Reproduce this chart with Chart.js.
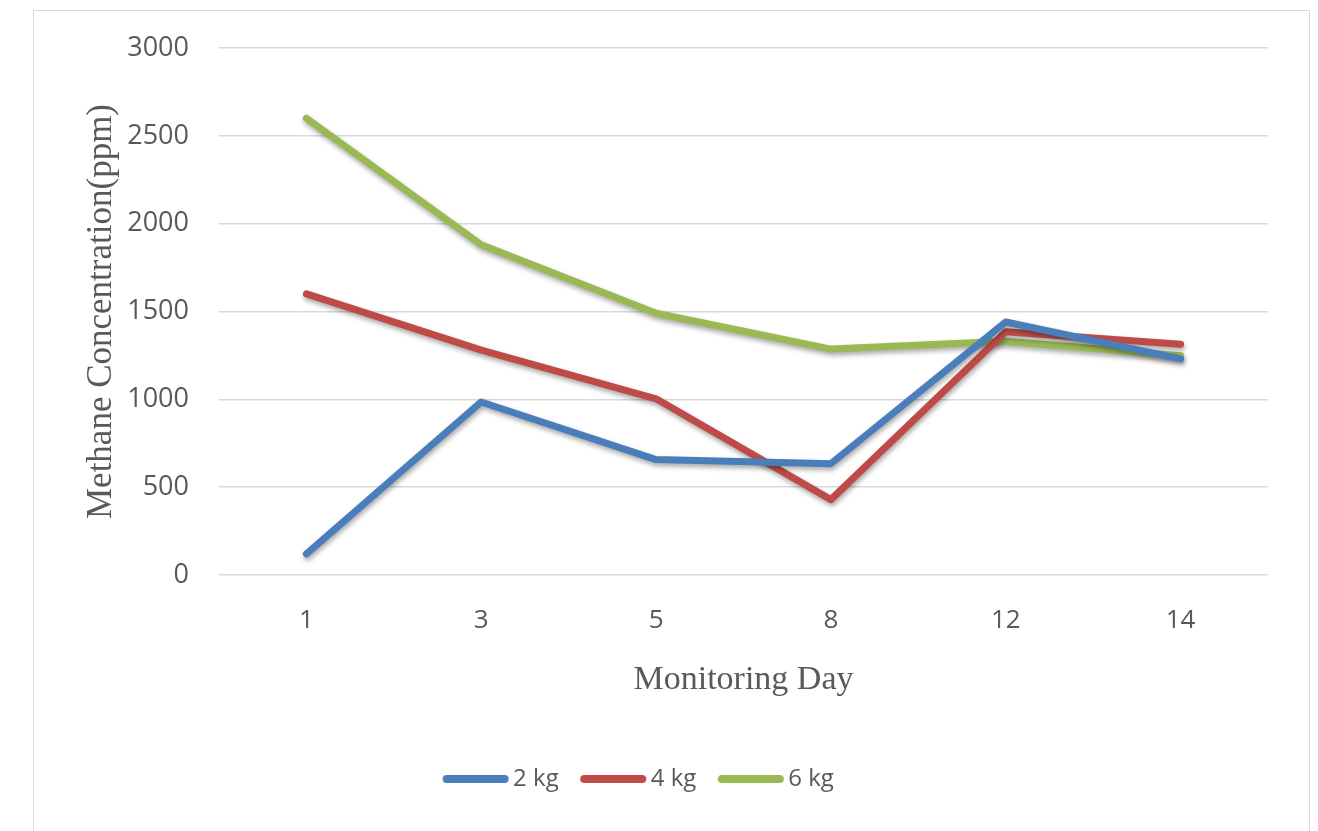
<!DOCTYPE html>
<html>
<head>
<meta charset="utf-8">
<script src="https://cdn.jsdelivr.net/npm/chart.js@4.4.0/dist/chart.umd.min.js"></script>
<style>
  html, body { margin: 0; padding: 0; background: #fff; }
  body { width: 1318px; height: 831px; position: relative; overflow: hidden; }
  #frame { position: absolute; left: 33px; top: 10px; width: 1275px; height: 830px; border: 1px solid #d9d9d9; }
  #wrap { position: absolute; left: 8px; top: 11px; width: 1300px; height: 820px; }
</style>
</head>
<body>
<div id="frame"></div>
<div id="wrap"><canvas id="chart"></canvas></div>
<script>
var days = ["1", "3", "5", "8", "12", "14"];
var kg2 = [120, 985, 657, 634, 1440, 1230];
var kg4 = [1600, 1280, 1003, 429, 1385, 1314];
var kg6 = [2600, 1880, 1490, 1286, 1331, 1248];
var yTicks = [0, 500, 1000, 1500, 2000, 2500, 3000];

var ctx = document.getElementById("chart");
var tickFont = "'Open Sans', sans-serif";
var titleFont = "'Liberation Serif', 'DejaVu Serif', serif";

// soft drop shadow under the lines, like the office chart
var shadowPlugin = {
    id: 'lineShadow',
    beforeDatasetsDraw: function(chart) {
        var c = chart.ctx;
        c.save();
        c.shadowColor = "rgba(0,0,0,0.35)";
        c.shadowBlur = 5;
        c.shadowOffsetX = 1;
        c.shadowOffsetY = 3;
    },
    afterDatasetsDraw: function(chart) {
        chart.ctx.restore();
    }
};

// little rounded line used as the legend marker
function legendLine(colour) {
    var cv = document.createElement("canvas");
    cv.width = 68;
    cv.height = 12;
    var c = cv.getContext("2d");
    c.strokeStyle = colour;
    c.lineWidth = 8;
    c.lineCap = "round";
    c.beginPath();
    c.moveTo(5, 6);
    c.lineTo(63, 6);
    c.stroke();
    return cv;
}

function series(label, values, colour) {
    return {
        label: label,
        data: values,
        borderColor: colour,
        backgroundColor: colour,
        borderWidth: 7,
        borderCapStyle: 'round',
        borderJoinStyle: 'round',
        pointRadius: 0,
        tension: 0,
        fill: false,
        marker: legendLine(colour)
    };
}

var myChart = new Chart(ctx, {
    type: 'line',
    data: {
        labels: days,
        datasets: [
            series("2 kg", kg2, "#4a7ebb"),
            series("4 kg", kg4, "#be4b48"),
            series("6 kg", kg6, "#98b954")
        ]
    },
    plugins: [shadowPlugin],
    options: {
        responsive: true,
        maintainAspectRatio: false,
        animation: false,
        layout: { padding: { top: 37, right: 40, left: 8, bottom: 30 } },
        plugins: {
            tooltip: { enabled: false },
            legend: {
                position: 'bottom',
                labels: {
                    usePointStyle: true,
                    pointStyleWidth: 51,
                    padding: 29,
                    color: "#595959",
                    font: { family: tickFont, size: 24 },
                    generateLabels: function(chart) {
                        var items = Chart.defaults.plugins.legend.labels.generateLabels(chart);
                        items.forEach(function(it) {
                            it.pointStyle = chart.data.datasets[it.datasetIndex].marker;
                            it.lineWidth = 0;
                        });
                        return items;
                    }
                }
            }
        },
        scales: {
            x: {
                offset: true,
                afterFit: function(axis) { axis.height = 163; },
                grid: { display: false, drawTicks: false },
                border: { display: false },
                ticks: {
                    padding: 30,
                    color: "#595959",
                    font: { family: tickFont, size: 26 }
                },
                title: {
                    display: true,
                    text: "Monitoring Day",
                    color: "#595959",
                    padding: { top: 0, bottom: 38 },
                    font: { family: titleFont, size: 34 }
                }
            },
            y: {
                min: 0,
                max: 3000,
                afterFit: function(axis) { axis.width = 203; },
                afterBuildTicks: function(axis) {
                    axis.ticks = yTicks.map(function(v) { return { value: v }; });
                },
                grid: {
                    color: "#d9d9d9",
                    lineWidth: 1.5,
                    drawTicks: true,
                    tickLength: 20,
                    tickColor: "rgba(0,0,0,0)"
                },
                border: { display: false },
                ticks: {
                    padding: 10,
                    color: "#595959",
                    font: { family: tickFont, size: 27 },
                    callback: function(v) { return String(v); }
                },
                title: {
                    display: true,
                    text: "Methane Concentration(ppm)",
                    color: "#595959",
                    padding: { top: 65, bottom: 0 },
                    font: { family: titleFont, size: 35 }
                }
            }
        }
    }
});
</script>
</body>
</html>
